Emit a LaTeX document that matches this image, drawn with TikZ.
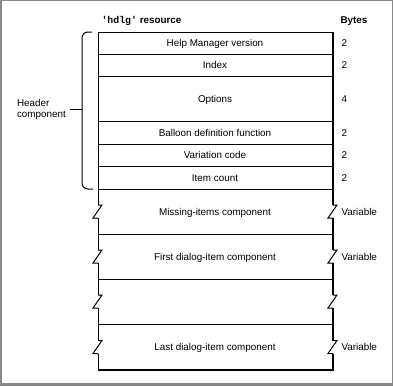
\documentclass[tikz,border=0pt]{standalone}
\usepackage{fontspec}
\setmainfont{Liberation Sans}
\setmonofont{Liberation Mono}
\definecolor{framegray}{HTML}{888888}
\usetikzlibrary{positioning}
\tikzset{
	breakmark/.pic={
			\draw (0,-6.5) -- (4,-6.5) -- (-5,6.5) -- (0,6.5);
		}
}
\tikzset{
	rowtext/.style={font=\fontsize{7.4}{9}\selectfont, inner sep=0pt, text height=5.3pt, text depth=0pt}
}
\tikzset{
	headtext/.style={font=\fontsize{7.4}{9}\selectfont\bfseries, inner sep=0pt, text height=5.3pt, text depth=0pt}
}
\tikzset{
	sidetext/.style={font=\fontsize{7.4}{8.25}\selectfont, inner sep=0pt, align=left}
}
\begin{document}
\begin{tikzpicture}[x=0.75pt, y=-0.75pt, line width=0.75pt]

			\useasboundingbox (0,0) rectangle (393,386);
			\fill[framegray] (0,0) rectangle (393,386);
			\fill[white] (2,1) rectangle (391.5,383);

			% column heads
			\node[headtext, anchor=west] (title) at (101,19.5) {\texttt{'hdlg'} resource};
			\node[headtext, anchor=west] (bytes) at (340,19.5) {Bytes};

			% outline of the resource
			\begin{scope}
				\coordinate (tl) at (98,32);
				\coordinate (tr) at (333,32);
				\coordinate (bl) at (98,370);
				\coordinate (br) at (333,370);

				\draw (tl) -- (tr);
				\draw (tl) -- (98,205);
				\draw (98,218) -- (98,250);
				\draw (98,263) -- (98,295);
				\draw (98,308) -- (98,340.5);
				\draw (98,353.5) -- (bl);

				\draw[line width=1.5pt] (tr) -- (333,205);
				\draw[line width=1.5pt] (333,218) -- (333,250);
				\draw[line width=1.5pt] (333,263) -- (333,295);
				\draw[line width=1.5pt] (333,308) -- (333,340.5);
				\draw[line width=1.5pt] (333,353.5) -- (br) -- (bl);

				\foreach \c in {211.5,256.5,301.5,347} {
						\pic at (98,\c) {breakmark};
						\pic at (333,\c) {breakmark};
					}

				\foreach \r in {54,76,121,144,166,189,234,279,324} {
						\draw (98,\r) -- (333,\r);
					}
			\end{scope}

			% fields
			\node[rowtext] (rA) at (215,43) {Help Manager version};
			\node[rowtext] (rB) at (215,65) {Index};
			\node[rowtext] (rC) at (215,98.5) {Options};
			\node[rowtext] (rD) at (215,132.5) {Balloon definition function};
			\node[rowtext] (rE) at (215,155) {Variation code};
			\node[rowtext] (rF) at (215,177.5) {Item count};
			\node[rowtext] (rG) at (215,211.5) {Missing-items component};
			\node[rowtext] (rH) at (215,256.5) {First dialog-item component};
			\node[rowtext] (rJ) at (215,347) {Last dialog-item component};

			% sizes
			\node[rowtext, anchor=west] (bA) at (341,43) {2};
			\node[rowtext, anchor=west] (bB) at (341,65) {2};
			\node[rowtext, anchor=west] (bC) at (341,98.5) {4};
			\node[rowtext, anchor=west] (bD) at (341,132.5) {2};
			\node[rowtext, anchor=west] (bE) at (341,155) {2};
			\node[rowtext, anchor=west] (bF) at (341,177.5) {2};
			\node[rowtext, anchor=west] (bG) at (341,211.5) {Variable};
			\node[rowtext, anchor=west] (bH) at (341,256.5) {Variable};
			\node[rowtext, anchor=west] (bJ) at (341,347) {Variable};

			% header brace
			\draw[rounded corners=4.5pt] (92,32) -- (82,32) -- (82,189) -- (93,189);
			\coordinate (bmid) at (82,109);
			\node[sidetext, anchor=west] (hdr) at (16.5,109.5) {Header\\component};
			\draw (bmid) -- ++(-12,0);

		\end{tikzpicture}
\end{document}
